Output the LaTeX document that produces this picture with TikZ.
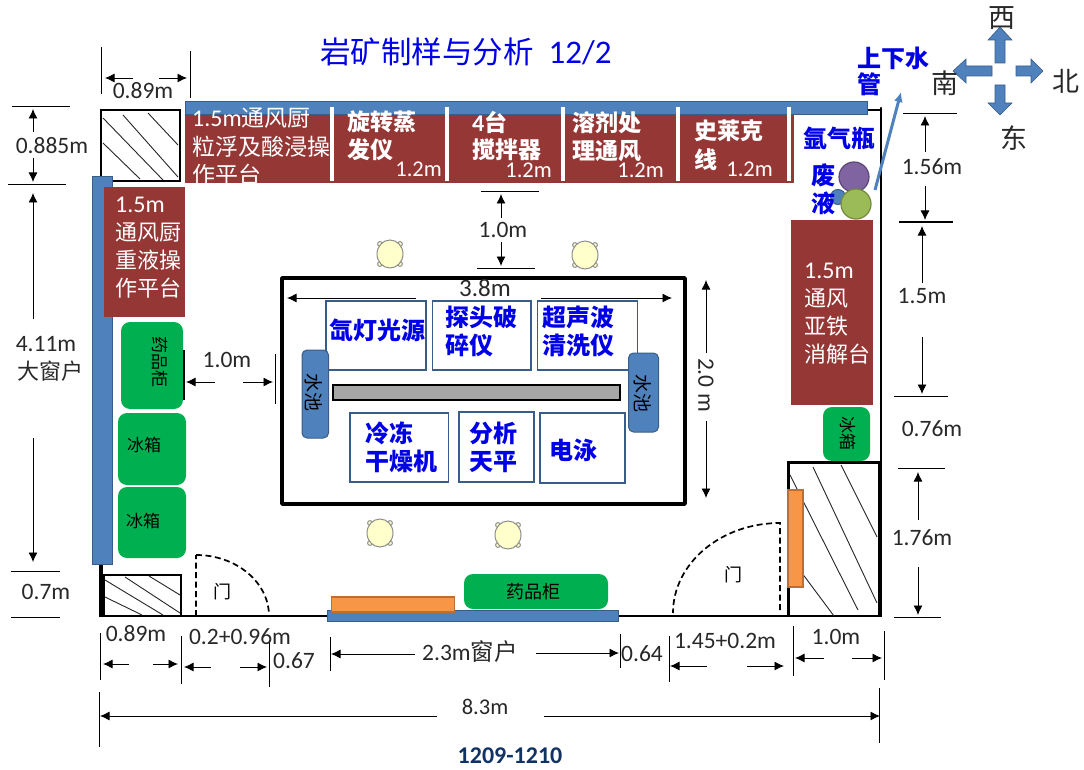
\documentclass[tikz,border=0pt]{standalone}
\usepackage{fontspec}
\usetikzlibrary{arrows.meta}
\setmainfont{Carlito}
\newfontfamily\cjk{Noto Sans CJK SC}
\newcommand\K[1]{{\cjk #1}}
\newcommand\fs[2]{\fontsize{#1}{#2}\selectfont}
\newcommand\Lat[1]{{\fontsize{24}{28}\selectfont #1}}
\definecolor{wallblue}{RGB}{79,129,189}
\definecolor{walledge}{RGB}{56,93,138}
\definecolor{hoodred}{RGB}{149,55,53}
\definecolor{cabgreen}{RGB}{0,176,80}
\definecolor{orangebar}{RGB}{247,150,70}
\definecolor{orangeedge}{RGB}{190,110,50}
\definecolor{dimgrey}{RGB}{40,40,40}
\definecolor{stoolfill}{RGB}{255,255,204}
\definecolor{titleblue}{RGB}{0,0,230}
\definecolor{navy}{RGB}{16,50,100}
\definecolor{bottlepurple}{RGB}{128,100,162}
\definecolor{bottlepurpleedge}{RGB}{92,70,120}
\definecolor{bottlegreen}{RGB}{155,187,89}
\definecolor{bottlegreenedge}{RGB}{112,137,62}
\tikzset{
  dimline/.style={-{Latex[length=9.5pt,width=9pt]},line width=.9pt,black},
  tickline/.style={line width=.9pt,black},
  lbl/.style={inner sep=0pt,text=dimgrey,font=\fs{23.5}{28}},
  pipebar/.style={draw=walledge,line width=1pt,fill=wallblue},
  hood/.style={fill=hoodred,draw=none},
  hoodtext/.style={inner sep=0pt,text=white,anchor=west,align=left},
  hoodnum/.style={inner sep=0pt,text=white,font=\fs{22.5}{25}},
  cab/.style={fill=cabgreen,draw=none,rounded corners=9pt},
  cabtext/.style={inner sep=0pt,text=black},
  hatch/.style={line width=.9pt,black!85},
  equip/.style={draw=walledge,line width=1.6pt,fill=white},
  equiptext/.style={inner sep=0pt,text=titleblue,anchor=west,align=left,font=\fs{24}{28}\cjk\bfseries},
  bluetext/.style={inner sep=0pt,text=titleblue,align=left,font=\fs{24}{28}\cjk\bfseries},
  wall/.style={line width=2.6pt,black,line cap=round},
  stool/.style={draw=black!45,line width=1pt,fill=stoolfill},
  basin/.style={pipebar,rounded corners=5pt},
  bar/.style={fill=orangebar,draw=orangeedge,line width=1.2pt},
  compass/.style={draw=walledge,line width=.6pt,fill=wallblue},
  doorline/.style={line width=1.7pt,black,dash pattern=on 6pt off 3.5pt},
}
\newcommand\stoolat[3]{%
  \foreach \dx/\dy in {-10/-10,10/-10,-10/10,10/10}
    \fill[stool] (#1+\dx,#2+\dy) circle (2.4);
  \draw[stool] (#1,#2) ellipse (13 and 14) coordinate (#3);
}
\begin{document}
\begin{tikzpicture}[x=1pt,y=-1pt]
\useasboundingbox (0,0) rectangle (1084,770);
% top row hoods
\fill[hood] (185,110) rectangle (794,183);
% walls
\draw[wall] (101,110) -- (101,616);
\draw[wall] (881,108) -- (881,462);
\draw[line width=3.6pt,black] (880,462) -- (880,617);
\draw[line width=3.4pt,black] (101,564) -- (101,617);
\draw[wall] (101,616) -- (327,616);
\draw[wall] (619,616) -- (788,616);
\draw[wall] (860,110) -- (881,110);
% hatched boxes
\draw[line width=2.6pt,black,fill=white] (101,110) rectangle (180,181);
\foreach \a/\b/\c/\d in {103/143/140/179,103/118/163/180,123/115/178/177,148/113/178/145}
  \draw[hatch] (\a,\b) -- (\c,\d);
\draw[line width=2.2pt,black,fill=white] (104,575) rectangle (181,616);
\foreach \a/\b/\c/\d in {105/597/142/615,105/580/163/615,125/577/180/613,149/576/180/595}
  \draw[hatch] (\a,\b) -- (\c,\d);
\draw[line width=2.2pt,black,fill=white] (788.5,462.5) rectangle (879,616);
\foreach \a/\b/\c/\d in {790/475/858/610,790/557/834/616,813/467/877/603,841/465/877/537}
  \draw[hatch] (\a,\b) -- (\c,\d);
% blue wall bars
\draw[pipebar] (185,102) rectangle (867,115);
\draw[pipebar] (92.5,177) rectangle (112,564);
\draw[pipebar] (327.5,610) rectangle (618.5,621.5);
% hood dividers
\foreach \x in {332,446.5,563,678,789}
  \fill[white] (\x-2,107) rectangle (\x+2,181);
% side hoods
\fill[hood] (104,187) rectangle (185,317);
\fill[hood] (791,220) rectangle (873,405);
% top-row texts
\node[hoodtext,font=\fs{23}{28.5}] (hoodA) at (192,147) {\Lat{1.5m}\K{通风厨}\\\K{粒浮及酸浸操}\\\K{作平台}};
\node[hoodtext,font=\fs{23}{28}\bfseries] (hoodB) at (347,136) {\K{旋转蒸}\\\K{发仪}};
\node[hoodnum,anchor=east] (hoodBm) at (442,169) {1.2m};
\node[hoodtext,font=\fs{23}{27}\bfseries] (hoodC) at (472,136) {\Lat{4}\K{台}\\\K{搅拌器}};
\node[hoodnum,anchor=east] (hoodCm) at (552,170) {1.2m};
\node[hoodtext,font=\fs{23}{27.5}\bfseries] (hoodD) at (572,136.5) {\K{溶剂处}\\\K{理通风}};
\node[hoodnum,anchor=east] (hoodDm) at (664,170) {1.2m};
\node[hoodtext,font=\fs{23}{29}\bfseries] (hoodE) at (694,145) {\K{史莱克}\\\K{线}};
\node[hoodnum,anchor=east] (hoodEm) at (773,169) {1.2m};
% side hood texts
\node[hoodtext,font=\fs{22}{28}] (hoodL) at (115,248) {\Lat{1.5m}\\\K{通风厨}\\\K{重液操}\\\K{作平台}};
\node[hoodtext,font=\fs{22}{28}] (hoodR) at (804,314) {\Lat{1.5m}\\\K{通风}\\\K{亚铁}\\\K{消解台}};
% cabinets
\fill[cab] (121,322) rectangle (183,409);
\fill[cab] (118,413) rectangle (186,485);
\fill[cab] (118,487) rectangle (186,558);
\fill[cab] (823,407) rectangle (870,461);
\fill[cab] (464,574) rectangle (608,609);
\node[cabtext,rotate=-90,font=\fs{17}{20}\cjk] (cabA) at (160,362) {药品柜};
\node[cabtext,font=\fs{17}{20}\cjk] (cabB) at (144,445) {冰箱};
\node[cabtext,font=\fs{17}{20}\cjk] (cabC) at (143,521) {冰箱};
\node[cabtext,rotate=-90,font=\fs{17}{20}\cjk] (cabD) at (848,433) {冰箱};
\node[cabtext,font=\fs{18}{20}\cjk] (cabE) at (533,592) {药品柜};
% orange benches
\draw[bar] (331.5,597) rectangle (454.5,612);
\draw[bar] (788,490) rectangle (803,587);
% island
\draw[line width=3.4pt,black,line join=round] (282,278) rectangle (685,504);
% 3.8 m dimension
\draw[dimline] (416,298) -- (287,298);
\draw[dimline] (541,298) -- (672,298);
\node[lbl,font=\fs{25}{28}] (dimIsland) at (485,288) {3.8m};
% island equipment
\draw[equip] (326,301) rectangle (426,370);
\draw[equip] (432.5,301) rectangle (531,370);
\draw[equip] (537.5,301) rectangle (637.5,370);
\draw[equip] (350,413) rectangle (448.5,482);
\draw[equip] (459,412) rectangle (534,482);
\draw[equip] (540,413) rectangle (625,483);
\draw[line width=2.2pt,black,fill=black!35] (333,385) rectangle (620,400);
\draw[basin] (302,350) rectangle (328.5,438);
\draw[basin] (628.5,353) rectangle (658.5,432);
\node[cabtext,rotate=-90,font=\fs{19}{22}\cjk] (sinkL) at (314,392) {水池};
\node[cabtext,rotate=-90,font=\fs{19}{22}\cjk] (sinkR) at (643,393) {水池};
\node[equiptext] (eqA) at (329,330) {氙灯光源};
\node[equiptext] (eqB) at (445,331) {探头破\\碎仪};
\node[equiptext] (eqC) at (542,331) {超声波\\清洗仪};
\node[equiptext] (eqD) at (365,447) {冷冻\\干燥机};
\node[equiptext] (eqE) at (469,447) {分析\\天平};
\node[equiptext] (eqF) at (549,450) {电泳};
% stools
\stoolat{390}{254}{stoolA}
\stoolat{585}{255}{stoolB}
\stoolat{380}{533}{stoolC}
\stoolat{508}{535}{stoolD}
% bottles
\draw[draw=bottlepurpleedge,line width=1.2pt,fill=bottlepurple] (854,177) circle (15);
\draw[draw=walledge,line width=1pt,fill=wallblue] (838,197) circle (7.5);
\draw[draw=bottlegreenedge,line width=1.2pt,fill=bottlegreen] (856,204) circle (15);
\node[bluetext] (argon) at (839,138) {氩气瓶};
\node[bluetext,anchor=center] (waste) at (823,189) {废\\液};
% water pipe
\coordinate (pipeA) at (875,190);
\coordinate (pipeB) at (901,92);
\draw[-{Latex[length=10pt,width=9pt]},line width=3pt,wallblue] (pipeA) -- (pipeB);
\node[bluetext,anchor=north west,font=\fs{24}{26}\cjk\bfseries] (pipeT) at (857,47) {上下水\\管};
% title
\node[inner sep=0pt,text=titleblue,anchor=west,font=\fs{30.5}{34}\cjk] (title) at (320,52) {岩矿制样与分析\hspace{15pt}{\setmainfont{Carlito}\fontsize{33}{34}\normalfont\selectfont 12/2}};
% compass
\draw[compass] (995,63) -- (995,40) -- (988,40) -- (1000,27) -- (1012,40) -- (1005,40) -- (1005,63) -- cycle;
\draw[compass] (992,66) -- (966,66) -- (966,59) -- (953,71) -- (966,83) -- (966,76) -- (992,76) -- cycle;
\draw[compass] (1016,66) -- (1031,66) -- (1031,59) -- (1043,71) -- (1031,83) -- (1031,76) -- (1016,76) -- cycle;
\draw[compass] (995,85) -- (995,103) -- (988,103) -- (1000,115) -- (1012,103) -- (1005,103) -- (1005,85) -- cycle;
\node[lbl,font=\fs{27}{30}\cjk] (nW) at (1002,18) {西};
\node[lbl,font=\fs{27}{30}\cjk] (nS) at (945,83) {南};
\node[lbl,font=\fs{27}{30}\cjk] (nN) at (1066,81) {北};
\node[lbl,font=\fs{27}{30}\cjk] (nE) at (1014,138) {东};
% doors
\draw[doorline] (196,616) -- (196,555) (196,555) arc[start angle=90,end angle=0,x radius=73,y radius=-61];
\draw[doorline] (780,610) -- (780,523) arc[start angle=90,end angle=180,x radius=107,y radius=-90];
\node[cabtext,font=\fs{18}{20}\cjk] (doorL) at (222,592) {门};
\node[cabtext,font=\fs{18}{20}\cjk] (doorR) at (733,575) {门};
% top-left dims
\draw[tickline] (101,47) -- (101,94) (190,51) -- (190,98);
\draw[dimline] (133,78) -- (105,78);
\draw[dimline] (159,78) -- (187,78);
\node[lbl] (d89a) at (143,91) {0.89m};
\draw[tickline] (12,106) -- (70,106) (8,184) -- (66,184);
\draw[dimline] (33,132) -- (33,109);
\draw[dimline] (33,158) -- (33,182);
\node[lbl] (d885) at (52,146) {0.885m};
% left side dims
\draw[dimline] (33,319) -- (33,193);
\draw[dimline] (33,438) -- (33,562);
\node[lbl] (d411) at (46,344) {4.11m};
\node[lbl,font=\fs{22}{26}\cjk] (dwin) at (50,371) {大窗户};
\draw[tickline] (11,571) -- (60,571) (11,617) -- (60,617);
\node[lbl] (d07) at (46,592) {0.7m};
\draw[line width=1.1pt,black] (184,350) -- (184,400);
\draw[tickline] (275,354) -- (275,404);
\draw[dimline] (215,382) -- (186,382);
\draw[dimline] (243,382) -- (273,382);
\node[lbl] (d10a) at (227,360) {1.0m};
% centre dims
\draw[tickline] (481,191) -- (539,191) (477,268) -- (535,268);
\draw[dimline] (501,218) -- (501,194);
\draw[dimline] (501,242) -- (501,266);
\node[lbl] (d10b) at (503,230) {1.0m};
\draw[dimline] (706,353) -- (706,280);
\draw[dimline] (706,421) -- (706,498);
\node[lbl,rotate=-90] (d20) at (706,385) {2.0 m};
% right dims
\draw[tickline] (903,113) -- (957,113);
\draw[line width=1.8pt,black] (899,222) -- (953,222);
\draw[dimline] (925,152) -- (925,116);
\draw[dimline] (925,186) -- (925,220);
\node[lbl] (d156) at (932,167) {1.56m};
\draw[dimline] (922,283) -- (922,226);
\draw[dimline] (922,337) -- (922,394);
\node[lbl] (d15) at (922,296) {1.5m};
\draw[tickline] (894,396) -- (948,396);
\node[lbl] (d76) at (932,429) {0.76m};
\draw[tickline] (898,468) -- (945,468) (894,617) -- (941,617);
\draw[dimline] (918,520) -- (918,472);
\draw[dimline] (918,567) -- (918,615);
\node[lbl] (d176) at (922,538) {1.76m};
% bottom dims
\draw[tickline] (100,633) -- (100,680) (181,636) -- (181,684) (269,640) -- (269,687);
\draw[dimline] (129,664) -- (103,664);
\draw[dimline] (153,664) -- (178,664);
\draw[dimline] (211,667) -- (184,667);
\draw[dimline] (240,667) -- (267,667);
\node[lbl] (d89b) at (136,634) {0.89m};
\node[lbl] (d096) at (240,637) {0.2+0.96m};
\node[lbl] (d67) at (294,661) {0.67};
\draw[tickline] (330,637) -- (330,671) (620,634) -- (620,668);
\draw[dimline] (415,654) -- (331,654);
\draw[dimline] (536,653) -- (619,653);
\node[lbl] (d23) at (470,652) {2.3m\K{窗户}};
\node[lbl] (d64) at (642,654) {0.64};
\draw[tickline] (669,636) -- (669,682) (793,626) -- (793,676) (884,631) -- (884,680);
\draw[dimline] (707,666) -- (670,666);
\draw[dimline] (747,666) -- (784,666);
\node[lbl] (d145) at (725,641) {1.45+0.2m};
\draw[dimline] (824,658) -- (795,658);
\draw[dimline] (852,658) -- (882,658);
\node[lbl] (d10c) at (836,637) {1.0m};
\draw[tickline] (99,692) -- (99,747) (879,688) -- (879,743);
\draw[dimline] (437,716) -- (100,716);
\draw[dimline] (544,716) -- (880,716);
\node[lbl,font=\fs{22.5}{26}] (d83) at (485,707) {8.3m};
\node[inner sep=0pt,text=navy,font=\fs{24}{27}\bfseries] (stamp) at (510,756) {1209-1210};
\end{tikzpicture}
\end{document}
